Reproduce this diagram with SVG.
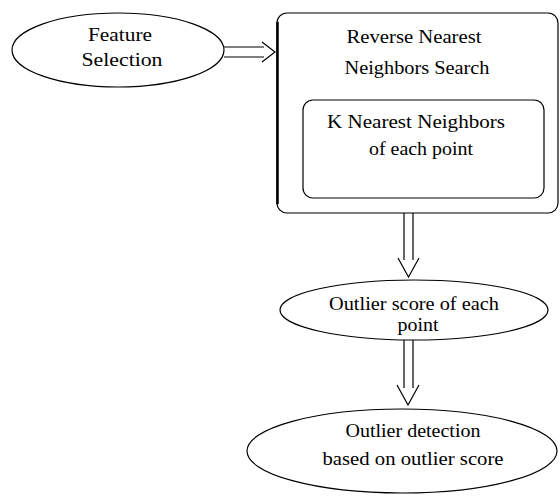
<svg xmlns="http://www.w3.org/2000/svg" width="560" height="496" viewBox="0 0 560 496">
<style>
.shape{fill:#fff;stroke:#000;stroke-width:1.2}
.line{fill:none;stroke:#000;stroke-width:1.2}
.t{font-family:'Liberation Serif','Times New Roman',serif;font-size:19px;fill:#000;text-anchor:middle}
</style>
<rect width="560" height="496" fill="#fff"/>
<g id="connectors">
  <g id="arrow-fs-rnn">
    <path class="line" d="M224,47 H264 M224,57 H264 M262,42 L275,52 L262,62"/>
  </g>
  <g id="arrow-rnn-os">
    <path class="line" d="M404,213 V260 M413,213 V260 M398,258 L408.5,277 L419,258"/>
  </g>
  <g id="arrow-os-od">
    <path class="line" d="M404,340 V388 M413,340 V388 M397,385 L408,405 L419,385"/>
  </g>
</g>
<g id="feature-selection">
  <ellipse class="shape" cx="118" cy="50" rx="106" ry="37"/>
  <text class="t" x="120" y="41" textLength="64" lengthAdjust="spacingAndGlyphs">Feature</text>
  <text class="t" x="122" y="66" textLength="81" lengthAdjust="spacingAndGlyphs">Selection</text>
</g>
<g id="reverse-nn-search">
  <rect class="shape" x="277" y="13" width="281" height="200" rx="10"/>
  <line x1="277.5" y1="22" x2="277.5" y2="204" stroke="#000" stroke-width="2.5"/>
  <text class="t" x="414" y="43" textLength="135" lengthAdjust="spacingAndGlyphs">Reverse Nearest</text>
  <text class="t" x="417" y="74" textLength="145" lengthAdjust="spacingAndGlyphs">Neighbors Search</text>
</g>
<g id="knn">
  <rect class="shape" x="303" y="100" width="241" height="98" rx="10"/>
  <text class="t" x="416" y="128" textLength="178" lengthAdjust="spacingAndGlyphs">K Nearest Neighbors</text>
  <text class="t" x="421" y="155" textLength="104" lengthAdjust="spacingAndGlyphs">of each point</text>
</g>
<g id="outlier-score">
  <ellipse class="shape" cx="414" cy="310" rx="134" ry="30"/>
  <text class="t" x="414" y="310" textLength="170" lengthAdjust="spacingAndGlyphs">Outlier score of each</text>
  <text class="t" x="418" y="331" textLength="41" lengthAdjust="spacingAndGlyphs">point</text>
</g>
<g id="outlier-detection">
  <ellipse class="shape" cx="402" cy="451" rx="155" ry="42"/>
  <text class="t" x="413" y="437" textLength="135" lengthAdjust="spacingAndGlyphs">Outlier detection</text>
  <text class="t" x="413" y="465" textLength="181" lengthAdjust="spacingAndGlyphs">based on outlier score</text>
</g>
</svg>
